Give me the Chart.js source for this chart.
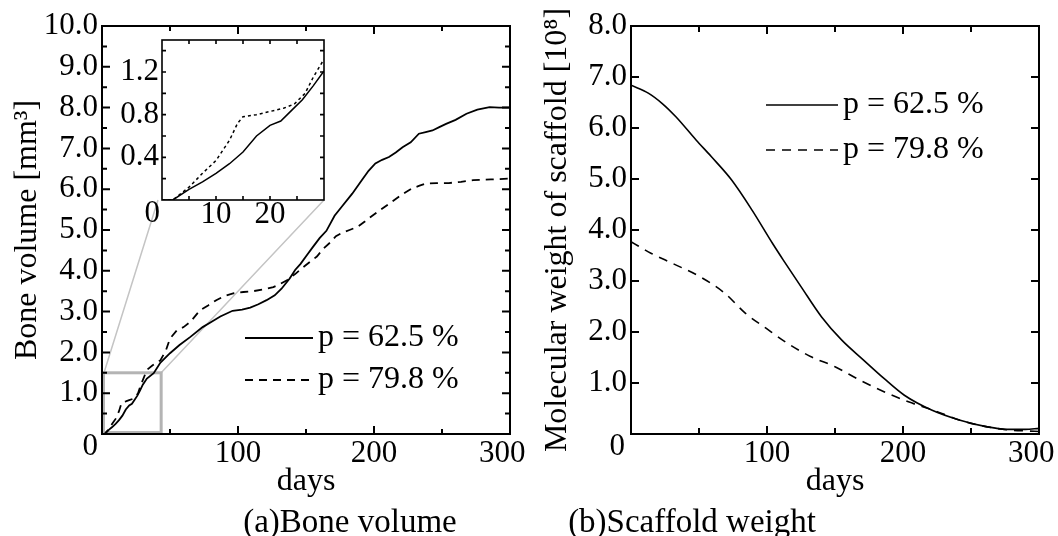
<!DOCTYPE html>
<html>
<head>
<meta charset="utf-8">
<script src="https://cdn.jsdelivr.net/npm/chart.js@4.4.1/dist/chart.umd.min.js"></script>
<style>
  body { margin: 0; background: #fff; }
  #wrap { position: relative; width: 1058px; height: 536px; overflow: hidden; font-family: 'Liberation Serif', serif; }
  canvas { position: absolute; }
  .cap { position: absolute; font-size: 33px; line-height: 32px; text-align: center; color: #000; white-space: nowrap; }
</style>
</head>
<body>
<div id="wrap">
  <canvas id="scaffold" width="528" height="536" style="left:530px;top:0"></canvas>
  <canvas id="bone" width="545" height="536" style="left:0;top:0"></canvas>
  <canvas id="inset" width="230" height="220" style="left:110px;top:20px"></canvas>
  <div class="cap" style="left:200px;top:505px;width:300px">(a)Bone volume</div>
  <div class="cap" style="left:542px;top:505px;width:300px">(b)Scaffold weight</div>
</div>
<script>
const seriesLabels = ['p = 62.5 %', 'p = 79.8 %'];

// (a) bone volume [mm3] vs days
const boneDays625 = [0, 2, 5, 7.5, 10, 12.5, 15, 17.5, 20, 22, 24, 26, 28, 30, 33, 38, 43, 50, 57, 65,
  74, 80, 87, 96, 103, 109, 115, 121, 127, 132, 138, 142, 146, 151, 155, 160, 165, 171, 177, 184,
  191, 196, 201, 206, 211, 216, 221, 227, 233, 238, 243, 248, 253, 260, 268, 276, 285, 292, 300];
const boneVol625 = [0, 0, 0.10, 0.17, 0.25, 0.34, 0.45, 0.60, 0.70, 0.74, 0.84, 0.94, 1.07, 1.21, 1.36, 1.49, 1.75, 1.98, 2.18, 2.38,
  2.62, 2.74, 2.88, 3.02, 3.05, 3.10, 3.18, 3.28, 3.40, 3.56, 3.81, 4.02, 4.17, 4.40, 4.58, 4.80, 4.98, 5.35, 5.60, 5.89,
  6.22, 6.45, 6.63, 6.72, 6.79, 6.90, 7.03, 7.15, 7.36, 7.40, 7.44, 7.52, 7.60, 7.70, 7.85, 7.95, 8.01, 8.00, 8.00];

const boneDays798 = [0, 2, 5, 7.5, 10, 12.5, 14, 15, 17.5, 20, 22.5, 24.5, 26.5, 28, 30, 33, 37, 43, 47, 50,
  55, 60, 65, 72, 78, 84, 90, 97, 104, 111, 118, 126, 131, 136, 142, 148, 153, 158, 163, 168,
  172, 176, 182, 188, 193, 198, 203, 208, 213, 218, 223, 228, 233, 238, 246, 255, 264, 273, 286, 300];
const boneVol798 = [0, 0, 0.12, 0.25, 0.37, 0.56, 0.72, 0.78, 0.80, 0.83, 0.86, 0.90, 1.00, 1.15, 1.32, 1.57, 1.68, 1.81, 2.05, 2.34,
  2.54, 2.62, 2.75, 3.03, 3.15, 3.28, 3.38, 3.45, 3.48, 3.50, 3.54, 3.60, 3.68, 3.77, 3.92, 4.09, 4.22, 4.35, 4.55, 4.70,
  4.85, 4.92, 5.00, 5.08, 5.20, 5.33, 5.45, 5.57, 5.69, 5.81, 5.92, 6.02, 6.08, 6.14, 6.15, 6.15, 6.18, 6.22, 6.24, 6.26];

// (b) molecular weight of scaffold [10^8] vs days
const scafDays625 = [0, 13, 23, 33, 48, 59, 74, 89, 104, 112, 125, 140, 155, 171, 186, 201, 221, 242, 262, 278, 290, 300];
const scafWeight625 = [6.84, 6.68, 6.48, 6.22, 5.76, 5.44, 4.98, 4.39, 3.74, 3.41, 2.89, 2.30, 1.84, 1.45, 1.09, 0.76, 0.47, 0.27, 0.14, 0.09, 0.09, 0.11];
const scafDays798 = [0, 15, 31, 51, 69, 84, 99.5, 115, 132, 150, 168, 186, 204, 222, 242, 262, 278, 290, 300];
const scafWeight798 = [3.77, 3.54, 3.34, 3.08, 2.76, 2.37, 2.07, 1.78, 1.52, 1.32, 1.06, 0.83, 0.63, 0.47, 0.27, 0.14, 0.08, 0.06, 0.05];

// tick labels
const dayLabels = [100, 200, 300];
const boneLabels = [1, 2, 3, 4, 5, 6, 7, 8, 9, 10];
const scafLabels = [1, 2, 3, 4, 5, 6, 7, 8];
const insetDayLabels = [10, 20];
const insetVolLabels = [0.4, 0.8, 1.2];

const FONT = "'Liberation Serif', 'Times New Roman', serif";
Chart.defaults.font.family = FONT;
Chart.defaults.color = '#000';

const pts = (xs, ys) => xs.map((x, i) => ({ x: x, y: ys[i] }));

// frame with inward ticks on all four sides plus the shared corner "0"
const framePlugin = {
  id: 'frame',
  afterDatasetsDraw(chart, args, o) {
    const { ctx, chartArea: a, scales: { x, y } } = chart;
    ctx.save();
    ctx.strokeStyle = '#000';
    ctx.lineWidth = o.width;
    ctx.beginPath();
    const xt = (vals, len) => vals.forEach(v => {
      const px = x.getPixelForValue(v);
      ctx.moveTo(px, a.bottom); ctx.lineTo(px, a.bottom - len);
      ctx.moveTo(px, a.top); ctx.lineTo(px, a.top + len);
    });
    const yt = (vals, len) => vals.forEach(v => {
      const py = y.getPixelForValue(v);
      ctx.moveTo(a.left, py); ctx.lineTo(a.left + len, py);
      ctx.moveTo(a.right, py); ctx.lineTo(a.right - len, py);
    });
    xt(o.xMajor, o.majorLen); xt(o.xMinor, o.minorLen);
    yt(o.yMajor, o.majorLen); yt(o.yMinor, o.minorLen);
    ctx.stroke();
    ctx.strokeRect(a.left, a.top, a.width, a.height);
    ctx.fillStyle = '#000';
    ctx.font = '31px ' + FONT;
    ctx.textAlign = 'right';
    ctx.textBaseline = 'middle';
    ctx.fillText('0', a.left + o.zeroDx, a.bottom + o.zeroDy);
    ctx.restore();
  }
};

const keyPlugin = {
  id: 'key',
  afterDatasetsDraw(chart, args, o) {
    if (!o.show) return;
    const { ctx, chartArea: a } = chart;
    chart.data.datasets.forEach((ds, i) => {
      const yy = a.top + o.top + i * o.gap;
      const x0 = a.left + o.left;
      ctx.save();
      ctx.strokeStyle = ds.borderColor;
      ctx.lineWidth = ds.borderWidth;
      ctx.setLineDash(o.dash[i]);
      ctx.beginPath();
      ctx.moveTo(x0, yy); ctx.lineTo(x0 + o.len, yy);
      ctx.stroke();
      ctx.setLineDash([]);
      ctx.fillStyle = '#000';
      ctx.font = '32px ' + FONT;
      ctx.textAlign = 'left';
      ctx.textBaseline = 'middle';
      ctx.fillText(ds.label, x0 + o.len + 5, yy);
      ctx.restore();
    });
  }
};

// grey zoom box and connectors to the inset
let insetChart = null;
const zoomPlugin = {
  id: 'zoomBox',
  beforeDatasetsDraw(chart, args, o) {
    if (!o.show || !insetChart) return;
    const { ctx, scales: { x, y } } = chart;
    const x0 = x.getPixelForValue(0), x1 = x.getPixelForValue(o.days);
    const y0 = y.getPixelForValue(0), y1 = y.getPixelForValue(o.vol);
    const ia = insetChart.chartArea;
    ctx.save();
    ctx.strokeStyle = '#c4c4c4';
    ctx.lineWidth = 1.5;
    ctx.beginPath();
    ctx.moveTo(x0 + 2, y1); ctx.lineTo(ia.left + o.offX - 4, ia.bottom + o.offY);
    ctx.moveTo(x1, y1); ctx.lineTo(ia.right + o.offX, ia.bottom + o.offY);
    ctx.stroke();
    ctx.strokeStyle = '#b4b4b4';
    ctx.lineWidth = 3;
    ctx.strokeRect(x0 + 1.5, y1, x1 - x0 - 1.5, y0 - y1 - 1.5);
    ctx.restore();
  }
};

// last day label sits a little left of its tick, as in the original
const dayText = v => v === 300 ? '300\u00a0\u00a0' : String(v);

function axes(o) {
  return {
    x: {
      type: 'linear', min: 0, max: o.xMax,
      grid: { display: false, drawTicks: false, tickLength: 0 }, border: { display: false },
      afterBuildTicks: s => { s.ticks = o.xLabels.map(v => ({ value: v })); },
      afterFit: s => { s.height = o.xH; s.paddingLeft = 0; s.paddingRight = 0; },
      ticks: { autoSkip: false, maxRotation: 0, padding: o.xPad, color: '#000',
        font: { size: 31, lineHeight: o.tickLH }, callback: dayText },
      title: o.xTitle
        ? { display: true, text: o.xTitle, color: '#000', font: { size: 32 }, padding: { top: 0, bottom: 35 } }
        : { display: false }
    },
    y: {
      type: 'linear', min: 0, max: o.yMax,
      grid: { display: false, drawTicks: false, tickLength: 0 }, border: { display: false },
      afterBuildTicks: s => { s.ticks = o.yLabels.map(v => ({ value: v })); },
      afterFit: s => { s.width = o.yW; s.paddingTop = 0; s.paddingBottom = 0; },
      ticks: { autoSkip: false, padding: o.yPad, color: '#000',
        font: { size: 31 }, callback: v => v.toFixed(1) },
      title: o.yTitle
        ? { display: true, text: o.yTitle, color: '#000', font: { size: 32 }, padding: { top: 8, bottom: 0 } }
        : { display: false }
    }
  };
}

function lineSet(label, data, width, dash, smooth) {
  return {
    label: label, data: data, borderColor: '#000', backgroundColor: '#000',
    borderWidth: width, borderDash: dash, pointRadius: 0, fill: false,
    tension: smooth ? 0.4 : 0, cubicInterpolationMode: smooth ? 'monotone' : 'default'
  };
}

const common = { responsive: false, animation: false, devicePixelRatio: 1, events: [] };

insetChart = new Chart(document.getElementById('inset'), {
  type: 'line',
  data: { datasets: [
    lineSet(seriesLabels[0], pts(boneDays625, boneVol625), 1.5, [], false),
    lineSet(seriesLabels[1], pts(boneDays798, boneVol798), 1.5, [3, 3], false)
  ] },
  options: Object.assign({}, common, {
    layout: { padding: { left: 0, top: 20, right: 16, bottom: 0 } },
    scales: axes({ xMax: 30, yMax: 1.5, xLabels: insetDayLabels, yLabels: insetVolLabels,
      xH: 40, yW: 52, xPad: 2, yPad: 3, tickLH: 0.8 }),
    plugins: {
      legend: { display: false }, tooltip: { enabled: false },
      frame: { width: 1.6, majorLen: 4, minorLen: 4, xMajor: [5, 10, 15, 20, 25], xMinor: [],
        yMajor: [0.2, 0.4, 0.6, 0.8, 1.0, 1.2, 1.4], yMinor: [], zeroDx: -2, zeroDy: 14 },
      key: { show: false }, zoomBox: { show: false }
    }
  }),
  plugins: [framePlugin]
});

new Chart(document.getElementById('bone'), {
  type: 'line',
  data: { datasets: [
    lineSet(seriesLabels[0], pts(boneDays625, boneVol625), 1.8, [], false),
    lineSet(seriesLabels[1], pts(boneDays798, boneVol798), 1.8, [8, 6], false)
  ] },
  options: Object.assign({}, common, {
    layout: { padding: { left: 0, top: 26, right: 35, bottom: 0 } },
    scales: axes({ xMax: 300, yMax: 10, xLabels: dayLabels, yLabels: boneLabels,
      xH: 102, yW: 102, xPad: 1, yPad: 4, tickLH: 1.2, xTitle: 'days', yTitle: 'Bone volume [mm³]' }),
    plugins: {
      legend: { display: false }, tooltip: { enabled: false },
      frame: { width: 2, majorLen: 8, minorLen: 5, xMajor: [100, 200], xMinor: [50, 150, 250],
        yMajor: [1, 2, 3, 4, 5, 6, 7, 8, 9], yMinor: [0.5, 1.5, 2.5, 3.5, 4.5, 5.5, 6.5, 7.5, 8.5, 9.5],
        zeroDx: -4, zeroDy: 13 },
      key: { show: true, left: 143, top: 312, gap: 42, len: 68, dash: [[], [8, 6]] },
      zoomBox: { show: true, days: 43.5, vol: 1.5, offX: 110, offY: 20 }
    }
  }),
  plugins: [zoomPlugin, framePlugin, keyPlugin]
});

new Chart(document.getElementById('scaffold'), {
  type: 'line',
  data: { datasets: [
    lineSet(seriesLabels[0], pts(scafDays625, scafWeight625), 1.6, [], true),
    lineSet(seriesLabels[1], pts(scafDays798, scafWeight798), 1.6, [9, 7], true)
  ] },
  options: Object.assign({}, common, {
    layout: { padding: { left: 0, top: 26, right: 19, bottom: 0 } },
    scales: axes({ xMax: 300, yMax: 8, xLabels: dayLabels, yLabels: scafLabels,
      xH: 102, yW: 101, xPad: 1, yPad: 4, tickLH: 1.2, xTitle: 'days', yTitle: 'Molecular weight of scaffold [10⁸]' }),
    plugins: {
      legend: { display: false }, tooltip: { enabled: false },
      frame: { width: 2, majorLen: 8, minorLen: 6, xMajor: [100, 200], xMinor: [50, 150, 250],
        yMajor: [1, 2, 3, 4, 5, 6, 7], yMinor: [], zeroDx: -6, zeroDy: 13 },
      key: { show: true, left: 135, top: 79, gap: 45, len: 72, dash: [[], [9, 7]] },
      zoomBox: { show: false }
    }
  }),
  plugins: [framePlugin, keyPlugin]
});
</script>
</body>
</html>
